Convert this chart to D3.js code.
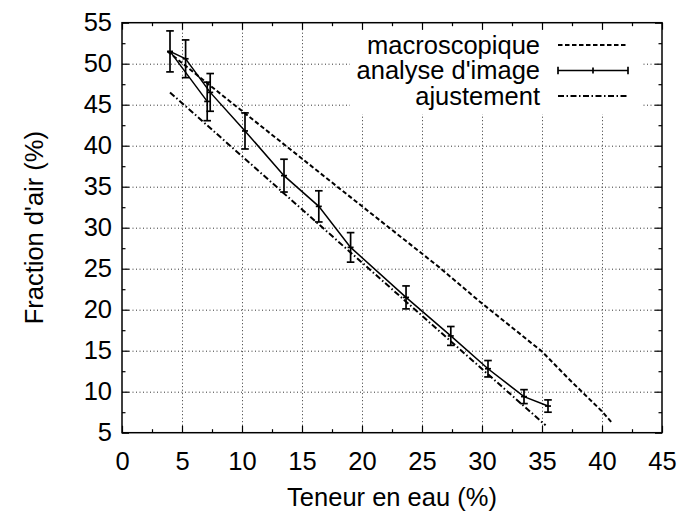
<!DOCTYPE html>
<html><head><meta charset="utf-8">
<script src="https://cdn.jsdelivr.net/npm/d3@7"></script>
<style>
body{margin:0;background:#fff}
svg{display:block}
text{font-family:"Liberation Sans",Arial,Helvetica,sans-serif;fill:#000}
</style>
</head><body>
<svg id="c" width="683" height="517"></svg>
<script>
// ---- data ----
const xTickValues = [0,5,10,15,20,25,30,35,40,45];
const yTickValues = [5,10,15,20,25,30,35,40,45,50,55];
const xMinorTicks = [2.5,7.5,12.5,17.5,22.5,27.5,32.5,37.5,42.5];
const yMinorTicks = [7.5,12.5,17.5,22.5,27.5,32.5,37.5,42.5,47.5,52.5];

const macroX = [3.8, 9.0, 18.2, 26.5, 29.8, 35.0, 37.2, 40.0, 40.9];
const macroY = [51.5, 45.4, 34.7, 25.1, 21.0, 14.9, 11.6, 7.6, 6.1];

const analyseX   = [7.1, 4.0, 5.3, 7.35, 10.25, 13.5, 16.4, 19.05, 23.67, 27.4, 30.5, 33.5, 35.5];
const analyseY   = [45.4, 51.5, 50.6, 46.5, 41.8, 36.35, 32.6, 27.6, 21.5, 16.8, 12.8, 9.4, 8.25];
const analyseErr = [2.35, 2.5, 2.3, 2.3, 2.2, 2.0, 1.9, 1.8, 1.4, 1.15, 1.0, 0.85, 0.75];

const ajustX = [4.0, 35.3];
const ajustY = [46.5, 5.9];

const seriesNames = ["macroscopique", "analyse d'image", "ajustement"];
const xTitle = "Teneur en eau (%)";
const yTitle = "Fraction d'air (%)";

// ---- layout ----
const L = 122, T = 22.7, W = 540, H = 410;
const FS = 25.5;
const svg = d3.select("#c");
const x = d3.scaleLinear().domain([0,45]).range([L, L+W]);
const y = d3.scaleLinear().domain([5,55]).range([T+H, T]);

// grid
const gx = svg.append("g").attr("transform",`translate(0,${T+H})`)
  .call(d3.axisBottom(x).tickValues(xTickValues.slice(1,-1)).tickSize(-H).tickFormat(""));
const gy = svg.append("g").attr("transform",`translate(${L},0)`)
  .call(d3.axisLeft(y).tickValues(yTickValues.slice(1,-1)).tickSize(-W).tickFormat(""));
[gx,gy].forEach(g=>{
  g.select(".domain").remove();
  g.selectAll("line").attr("stroke","#333").attr("stroke-width",1).attr("stroke-dasharray","1,2.5");
});

// legend background (covers grid)
svg.append("rect").attr("x",350).attr("y",30).attr("width",293).attr("height",84).attr("fill","#fff");

// lines
const lineGen = d3.line().x(d=>x(d[0])).y(d=>y(d[1]));
const macroData = macroX.map((v,i)=>[v, macroY[i]]);
const ajustData = ajustX.map((v,i)=>[v, ajustY[i]]);
const anData = analyseX.map((v,i)=>[v, analyseY[i], analyseErr[i]]);

const dashMacro = "4.5,2.5";
const dashAjust = "6,2.5,1.5,2.5";

svg.append("path").datum(macroData).attr("d",lineGen)
  .attr("fill","none").attr("stroke","#000").attr("stroke-width",2).attr("stroke-dasharray",dashMacro);
svg.append("path").datum(ajustData).attr("d",lineGen)
  .attr("fill","none").attr("stroke","#000").attr("stroke-width",2).attr("stroke-dasharray",dashAjust);
svg.append("path").datum(anData).attr("d",lineGen)
  .attr("fill","none").attr("stroke","#000").attr("stroke-width",1.5);

// error bars
const cap = 3.8;
const eb = svg.append("g").attr("stroke","#000").attr("stroke-width",1.7);
anData.forEach(d=>{
  const cx = x(d[0]), t = y(d[1]+d[2]), b = y(d[1]-d[2]), cy = y(d[1]);
  eb.append("line").attr("x1",cx).attr("x2",cx).attr("y1",t).attr("y2",b);
  eb.append("line").attr("x1",cx-cap).attr("x2",cx+cap).attr("y1",t).attr("y2",t);
  eb.append("line").attr("x1",cx-cap).attr("x2",cx+cap).attr("y1",b).attr("y2",b);
  eb.append("line").attr("x1",cx-3).attr("x2",cx+3).attr("y1",cy).attr("y2",cy);
});

// axes (ticks inward, mirrored)
function styleAxis(g){
  g.select(".domain").remove();
  g.selectAll("line").attr("stroke","#000").attr("stroke-width",1.2);
  g.selectAll("text").attr("font-size",FS).attr("font-family","Liberation Sans, Arial, sans-serif");
}
const ab = svg.append("g").attr("transform",`translate(0,${T+H})`)
  .call(d3.axisBottom(x).tickValues(xTickValues).tickSizeInner(-7).tickSizeOuter(0).tickPadding(19).tickFormat(d3.format("d")));
styleAxis(ab);
const abm = svg.append("g").attr("transform",`translate(0,${T+H})`)
  .call(d3.axisBottom(x).tickValues(xMinorTicks).tickSize(-3.5).tickFormat(""));
styleAxis(abm);
const at = svg.append("g").attr("transform",`translate(0,${T})`)
  .call(d3.axisTop(x).tickValues(xTickValues).tickSize(-7).tickFormat(""));
styleAxis(at);
const atm = svg.append("g").attr("transform",`translate(0,${T})`)
  .call(d3.axisTop(x).tickValues(xMinorTicks).tickSize(-3.5).tickFormat(""));
styleAxis(atm);
const al = svg.append("g").attr("transform",`translate(${L},0)`)
  .call(d3.axisLeft(y).tickValues(yTickValues).tickSizeInner(-7).tickSizeOuter(0).tickPadding(10).tickFormat(d3.format("d")));
styleAxis(al);
const alm = svg.append("g").attr("transform",`translate(${L},0)`)
  .call(d3.axisLeft(y).tickValues(yMinorTicks).tickSize(-3.5).tickFormat(""));
styleAxis(alm);
const ar = svg.append("g").attr("transform",`translate(${L+W},0)`)
  .call(d3.axisRight(y).tickValues(yTickValues).tickSize(-7).tickFormat(""));
styleAxis(ar);
const arm = svg.append("g").attr("transform",`translate(${L+W},0)`)
  .call(d3.axisRight(y).tickValues(yMinorTicks).tickSize(-3.5).tickFormat(""));
styleAxis(arm);

// border
svg.append("rect").attr("x",L).attr("y",T).attr("width",W).attr("height",H)
  .attr("fill","none").attr("stroke","#000").attr("stroke-width",1.5);

// titles
svg.append("text").attr("x",L+W/2).attr("y",506).attr("text-anchor","middle").attr("font-size",FS).text(xTitle);
svg.append("text").attr("transform",`translate(43,${T+H/2}) rotate(-90)`).attr("text-anchor","middle").attr("font-size",FS).text(yTitle);

// legend
const legY = [45, 70.5, 96];
const sx1 = 558, sx2 = 628;
const lg = svg.append("g");
seriesNames.forEach((n,i)=>{
  lg.append("text").attr("x",540).attr("y",legY[i]).attr("dy","0.35em").attr("text-anchor","end").attr("font-size",FS).text(n);
});
lg.append("line").attr("x1",sx1).attr("x2",sx2).attr("y1",legY[0]).attr("y2",legY[0])
  .attr("stroke","#000").attr("stroke-width",2).attr("stroke-dasharray",dashMacro);
lg.append("line").attr("x1",sx1).attr("x2",sx2).attr("y1",legY[1]).attr("y2",legY[1])
  .attr("stroke","#000").attr("stroke-width",1.5);
[sx1, sx2].forEach(sx=>lg.append("line").attr("x1",sx).attr("x2",sx).attr("y1",legY[1]-3.8).attr("y2",legY[1]+3.8).attr("stroke","#000").attr("stroke-width",1.7));
lg.append("line").attr("x1",(sx1+sx2)/2).attr("x2",(sx1+sx2)/2).attr("y1",legY[1]-3).attr("y2",legY[1]+3).attr("stroke","#000").attr("stroke-width",1.7);
lg.append("line").attr("x1",sx1).attr("x2",sx2).attr("y1",legY[2]).attr("y2",legY[2])
  .attr("stroke","#000").attr("stroke-width",2).attr("stroke-dasharray",dashAjust);
</script>
</body></html>
